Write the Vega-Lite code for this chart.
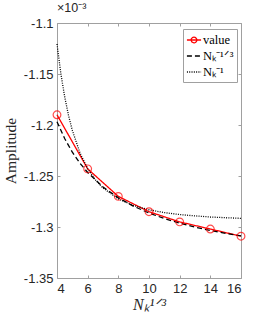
{
  "$schema": "https://vega.github.io/schema/vega-lite/v6.json",
  "width": 184,
  "height": 255,
  "autosize": {"type": "none"},
  "padding": {"left": 57, "top": 23, "right": 25, "bottom": 41},
  "background": "white",
  "config": {
    "view": {"stroke": null},
    "axis": {"grid": false, "domainColor": "#a0a0a0", "tickColor": "#a0a0a0", "labelColor": "#262626", "labelFont": "Liberation Sans", "labelFontSize": 13, "titleColor": "#262626", "titleFont": "Liberation Serif", "titleFontWeight": "normal"}
  },
  "title": {"text": "×10⁻³", "anchor": "start", "frame": "group", "font": "Liberation Sans", "fontSize": 12.5, "fontWeight": "normal", "color": "#262626", "offset": 3, "dx": 0},
  "datasets": {
    "lines": [
      {"x": 4, "y": -1.190, "series": "value"},
      {"x": 6, "y": -1.243, "series": "value"},
      {"x": 8, "y": -1.270, "series": "value"},
      {"x": 10, "y": -1.285, "series": "value"},
      {"x": 12, "y": -1.295, "series": "value"},
      {"x": 14, "y": -1.302, "series": "value"},
      {"x": 16, "y": -1.309, "series": "value"},
      {"x": 4, "y": -1.1968, "series": "Nₖ⁻¹ᐟ³"},
      {"x": 4.5, "y": -1.2133, "series": "Nₖ⁻¹ᐟ³"},
      {"x": 5, "y": -1.2266, "series": "Nₖ⁻¹ᐟ³"},
      {"x": 5.5, "y": -1.2375, "series": "Nₖ⁻¹ᐟ³"},
      {"x": 6, "y": -1.2465, "series": "Nₖ⁻¹ᐟ³"},
      {"x": 7, "y": -1.2607, "series": "Nₖ⁻¹ᐟ³"},
      {"x": 8, "y": -1.2714, "series": "Nₖ⁻¹ᐟ³"},
      {"x": 9, "y": -1.2797, "series": "Nₖ⁻¹ᐟ³"},
      {"x": 10, "y": -1.2863, "series": "Nₖ⁻¹ᐟ³"},
      {"x": 11, "y": -1.2917, "series": "Nₖ⁻¹ᐟ³"},
      {"x": 12, "y": -1.2962, "series": "Nₖ⁻¹ᐟ³"},
      {"x": 13, "y": -1.3001, "series": "Nₖ⁻¹ᐟ³"},
      {"x": 14, "y": -1.3034, "series": "Nₖ⁻¹ᐟ³"},
      {"x": 15, "y": -1.3062, "series": "Nₖ⁻¹ᐟ³"},
      {"x": 16, "y": -1.3087, "series": "Nₖ⁻¹ᐟ³"},
      {"x": 4, "y": -1.1206, "series": "Nₖ⁻¹"},
      {"x": 4.25, "y": -1.1495, "series": "Nₖ⁻¹"},
      {"x": 4.5, "y": -1.1723, "series": "Nₖ⁻¹"},
      {"x": 4.75, "y": -1.1905, "series": "Nₖ⁻¹"},
      {"x": 5, "y": -1.2053, "series": "Nₖ⁻¹"},
      {"x": 5.5, "y": -1.2274, "series": "Nₖ⁻¹"},
      {"x": 6, "y": -1.2428, "series": "Nₖ⁻¹"},
      {"x": 6.5, "y": -1.2537, "series": "Nₖ⁻¹"},
      {"x": 7, "y": -1.2618, "series": "Nₖ⁻¹"},
      {"x": 8, "y": -1.2725, "series": "Nₖ⁻¹"},
      {"x": 9, "y": -1.2790, "series": "Nₖ⁻¹"},
      {"x": 10, "y": -1.2831, "series": "Nₖ⁻¹"},
      {"x": 11, "y": -1.2859, "series": "Nₖ⁻¹"},
      {"x": 12, "y": -1.2878, "series": "Nₖ⁻¹"},
      {"x": 13, "y": -1.2891, "series": "Nₖ⁻¹"},
      {"x": 14, "y": -1.2902, "series": "Nₖ⁻¹"},
      {"x": 15, "y": -1.2909, "series": "Nₖ⁻¹"},
      {"x": 16, "y": -1.2915, "series": "Nₖ⁻¹"}
    ]
  },
  "data": {"name": "lines"},
  "resolve": {"scale": {"x": "independent", "y": "independent"}},
  "layer": [
    {
      "mark": {"type": "point", "opacity": 0},
      "encoding": {
        "x": {"field": "x", "type": "quantitative", "scale": {"domain": [4, 16], "nice": false, "zero": false}, "axis": {"orient": "top", "labels": false, "title": null, "values": [4, 6, 8, 10, 12, 14, 16], "tickSize": -3}},
        "y": {"field": "y", "type": "quantitative", "scale": {"domain": [-1.35, -1.1], "nice": false, "zero": false}, "axis": {"orient": "right", "labels": false, "title": null, "values": [-1.35, -1.3, -1.25, -1.2, -1.15, -1.1], "tickSize": -3}}
      }
    },
    {
      "encoding": {
        "x": {"field": "x", "type": "quantitative", "scale": {"domain": [4, 16], "nice": false, "zero": false}, "axis": {"orient": "bottom", "values": [4, 6, 8, 10, 12, 14, 16], "tickSize": -3, "labelPadding": 7, "title": "Nₖ¹ᐟ³", "titleFontSize": 16, "titleFontStyle": "italic", "titlePadding": 1}},
        "y": {"field": "y", "type": "quantitative", "scale": {"domain": [-1.35, -1.1], "nice": false, "zero": false}, "axis": {"orient": "left", "values": [-1.35, -1.3, -1.25, -1.2, -1.15, -1.1], "tickSize": -3, "labelPadding": 7, "labelExpr": "replace(format(datum.value, '.2~f'), '−', '-')", "title": "Amplitude", "titleFontSize": 15.5, "titlePadding": 5}}
      },
      "layer": [
        {
          "mark": {"type": "line", "strokeWidth": 1.3},
          "encoding": {
            "color": {"field": "series", "type": "nominal", "scale": {"domain": ["value", "Nₖ⁻¹ᐟ³", "Nₖ⁻¹"], "range": ["#ff0000", "#000000", "#000000"]}, "legend": {"title": null, "orient": "none", "legendX": 126, "legendY": 6, "fillColor": "white", "strokeColor": "#a0a0a0", "padding": 3, "labelFont": "Liberation Serif", "labelFontSize": 12.5, "labelColor": "#000000", "symbolType": "stroke", "symbolSize": 200, "symbolStrokeWidth": 1.3, "rowPadding": 1, "labelOffset": 1, "encode": {"symbols": {"update": {"shape": {"signal": "datum.value === 'value' ? 'M-1,0H1M0.4,0A0.4,0.4,0,1,1,-0.4,0A0.4,0.4,0,1,1,0.4,0' : 'stroke'"}}}}}},
            "strokeDash": {"field": "series", "type": "nominal", "scale": {"domain": ["value", "Nₖ⁻¹ᐟ³", "Nₖ⁻¹"], "range": [[1, 0], [5, 3], [1, 1.3]]}, "legend": {"title": null, "orient": "none", "legendX": 126, "legendY": 6, "fillColor": "white", "strokeColor": "#a0a0a0", "padding": 3, "labelFont": "Liberation Serif", "labelFontSize": 12.5, "labelColor": "#000000", "symbolType": "stroke", "symbolSize": 200, "symbolStrokeWidth": 1.3, "rowPadding": 1, "labelOffset": 1, "encode": {"symbols": {"update": {"shape": {"signal": "datum.value === 'value' ? 'M-1,0H1M0.4,0A0.4,0.4,0,1,1,-0.4,0A0.4,0.4,0,1,1,0.4,0' : 'stroke'"}}}}}}
          }
        },
        {
          "transform": [{"filter": "datum.series === 'value'"}],
          "mark": {"type": "point", "shape": "circle", "filled": false, "color": "#ff0000", "size": 60, "strokeWidth": 1.2}
        }
      ]
    }
  ]
}
